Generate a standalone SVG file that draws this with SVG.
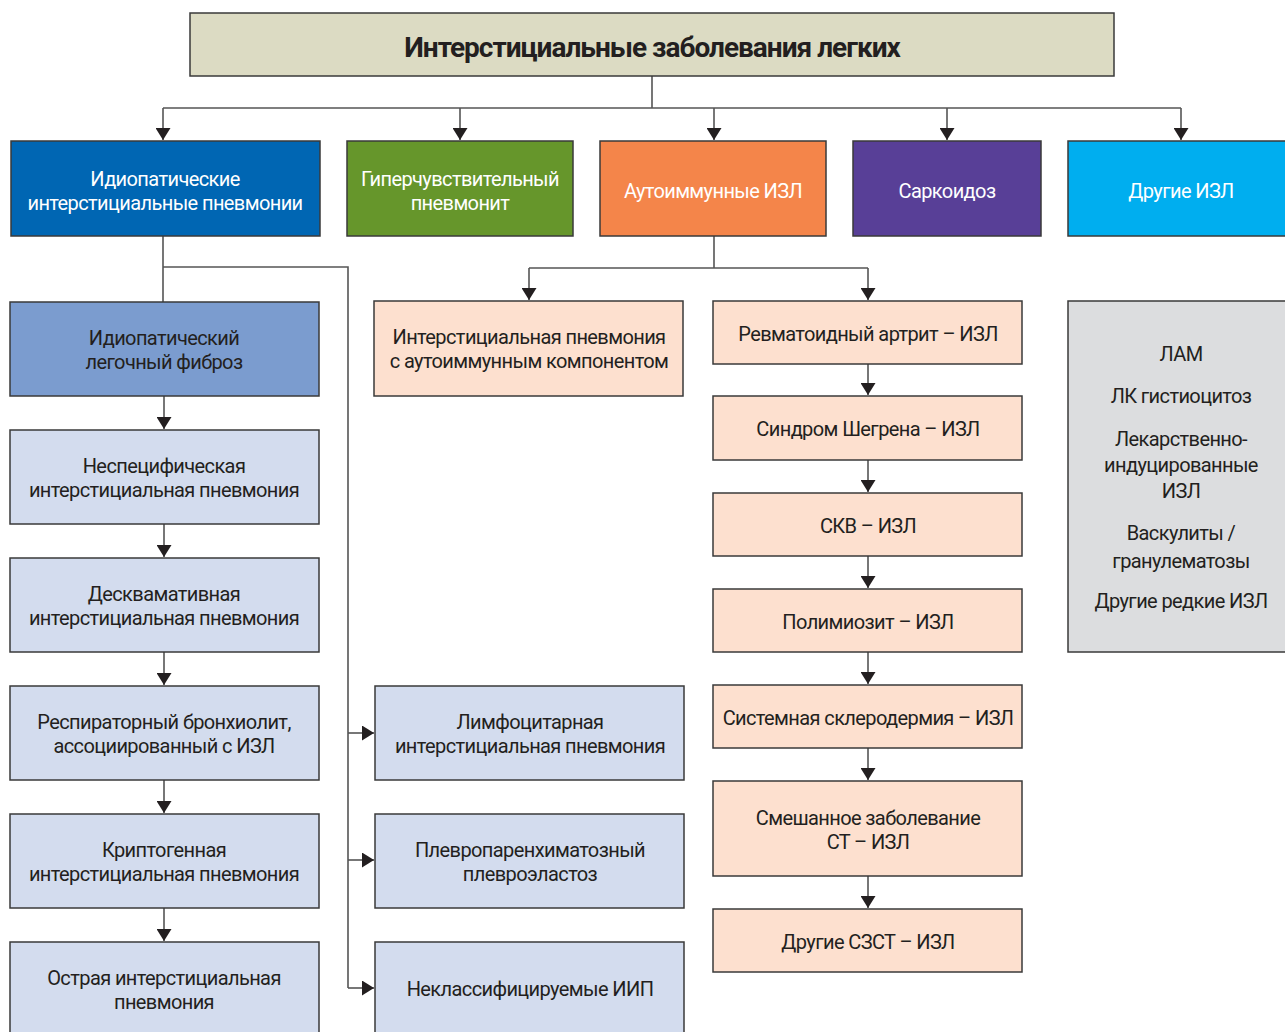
<svg xmlns="http://www.w3.org/2000/svg" width="1285" height="1032" viewBox="0 0 1285 1032">
<defs>
<marker id="ah" markerWidth="12" markerHeight="15" refX="12" refY="7.5" orient="auto" markerUnits="userSpaceOnUse">
<path d="M0,0 L12,7.5 L0,15 Z" fill="#231f20"/>
</marker>
<style>
rect{stroke:#3a3a3a;stroke-width:1.5}
rect.bg{stroke:none;fill:#ffffff}
text{font-family:"Roboto","Liberation Sans",sans-serif;font-size:20px;text-anchor:middle;fill:#231f20;letter-spacing:-0.6px}
.w{fill:#ffffff}
.t{font-weight:bold;font-size:28px;letter-spacing:-1px}
.c{fill:none;stroke:#555555;stroke-width:1.6}
.lb{fill:#d3dcee}
.pk{fill:#fde0cf}
</style>
</defs>
<rect class="bg" width="1285" height="1032"/>
<g id="connectors">
<path class="c" d="M652,76 V108 M163,108 H1181"/>
<path class="c" d="M163,108 V140" marker-end="url(#ah)"/>
<path class="c" d="M460,108 V140" marker-end="url(#ah)"/>
<path class="c" d="M714,108 V140" marker-end="url(#ah)"/>
<path class="c" d="M947,108 V140" marker-end="url(#ah)"/>
<path class="c" d="M1181,108 V140" marker-end="url(#ah)"/>
<path class="c" d="M163,236 V302 M163,267 H348 V988"/>
<path class="c" d="M348,733 H374" marker-end="url(#ah)"/>
<path class="c" d="M348,860 H374" marker-end="url(#ah)"/>
<path class="c" d="M348,988 H374" marker-end="url(#ah)"/>
<path class="c" d="M164,396 V429" marker-end="url(#ah)"/>
<path class="c" d="M164,524 V557" marker-end="url(#ah)"/>
<path class="c" d="M164,652 V685" marker-end="url(#ah)"/>
<path class="c" d="M164,780 V813" marker-end="url(#ah)"/>
<path class="c" d="M164,908 V941" marker-end="url(#ah)"/>
<path class="c" d="M714,236 V268 M529,268 H868"/>
<path class="c" d="M529,268 V300" marker-end="url(#ah)"/>
<path class="c" d="M868,268 V300" marker-end="url(#ah)"/>
<path class="c" d="M868,364 V395" marker-end="url(#ah)"/>
<path class="c" d="M868,460 V492" marker-end="url(#ah)"/>
<path class="c" d="M868,556 V588" marker-end="url(#ah)"/>
<path class="c" d="M868,652 V684" marker-end="url(#ah)"/>
<path class="c" d="M868,748 V780" marker-end="url(#ah)"/>
<path class="c" d="M868,876 V908" marker-end="url(#ah)"/>
</g>
<g id="title"><rect x="190" y="13" width="924" height="63" fill="#dcdbc3"/><text class="t" x="652" y="57">Интерстициальные заболевания легких</text></g>
<g id="iip"><rect x="11" y="141" width="309" height="95" fill="#0066b3"/><text class="w" x="165" y="186">Идиопатические</text><text class="w" x="165" y="210">интерстициальные пневмонии</text></g>
<g id="hp"><rect x="347" y="141" width="226" height="95" fill="#66962b"/><text class="w" x="460" y="186">Гиперчувствительный</text><text class="w" x="460" y="210">пневмонит</text></g>
<g id="ai"><rect x="600" y="141" width="226" height="95" fill="#f4854a"/><text class="w" x="713" y="198">Аутоиммунные ИЗЛ</text></g>
<g id="sarc"><rect x="853" y="141" width="188" height="95" fill="#583f97"/><text class="w" x="947" y="198">Саркоидоз</text></g>
<g id="other"><rect x="1068" y="141" width="230" height="95" fill="#00aeef"/><text class="w" x="1181" y="198">Другие ИЗЛ</text></g>
<g id="ipf"><rect x="10" y="302" width="309" height="94" fill="#7b9ccf"/><text x="164" y="345">Идиопатический</text><text x="164" y="369">легочный фиброз</text></g>
<g id="nsip"><rect class="lb" x="10" y="430" width="309" height="94"/><text x="164" y="473">Неспецифическая</text><text x="164" y="497">интерстициальная пневмония</text></g>
<g id="dip"><rect class="lb" x="10" y="558" width="309" height="94"/><text x="164" y="601">Десквамативная</text><text x="164" y="625">интерстициальная пневмония</text></g>
<g id="rb"><rect class="lb" x="10" y="686" width="309" height="94"/><text x="164" y="729">Респираторный бронхиолит,</text><text x="164" y="753">ассоциированный с ИЗЛ</text></g>
<g id="cop"><rect class="lb" x="10" y="814" width="309" height="94"/><text x="164" y="857">Криптогенная</text><text x="164" y="881">интерстициальная пневмония</text></g>
<g id="aip"><rect class="lb" x="10" y="942" width="309" height="100"/><text x="164" y="985">Острая интерстициальная</text><text x="164" y="1009">пневмония</text></g>
<g id="lip"><rect class="lb" x="375" y="686" width="309" height="94"/><text x="530" y="729">Лимфоцитарная</text><text x="530" y="753">интерстициальная пневмония</text></g>
<g id="ppfe"><rect class="lb" x="375" y="814" width="309" height="94"/><text x="530" y="857">Плевропаренхиматозный</text><text x="530" y="881">плевроэластоз</text></g>
<g id="uiip"><rect class="lb" x="375" y="942" width="309" height="100"/><text x="530" y="996">Неклассифицируемые ИИП</text></g>
<g id="ipaf"><rect class="pk" x="374" y="301" width="309" height="95"/><text x="529" y="344">Интерстициальная пневмония</text><text x="529" y="368">с аутоиммунным компонентом</text></g>
<g id="ra"><rect class="pk" x="713" y="301" width="309" height="63"/><text x="868" y="341">Ревматоидный артрит – ИЗЛ</text></g>
<g id="sj"><rect class="pk" x="713" y="396" width="309" height="64"/><text x="868" y="436">Синдром Шегрена – ИЗЛ</text></g>
<g id="sle"><rect class="pk" x="713" y="493" width="309" height="63"/><text x="868" y="533">СКВ – ИЗЛ</text></g>
<g id="pm"><rect class="pk" x="713" y="589" width="309" height="63"/><text x="868" y="629">Полимиозит – ИЗЛ</text></g>
<g id="ssc"><rect class="pk" x="713" y="685" width="309" height="63"/><text x="868" y="725">Системная склеродермия – ИЗЛ</text></g>
<g id="mctd"><rect class="pk" x="713" y="781" width="309" height="95"/><text x="868" y="825">Смешанное заболевание</text><text x="868" y="849">СТ – ИЗЛ</text></g>
<g id="octd"><rect class="pk" x="713" y="909" width="309" height="63"/><text x="868" y="949">Другие СЗСТ – ИЗЛ</text></g>
<g id="rare"><rect x="1068" y="301" width="230" height="351" fill="#dcdddf"/>
<text x="1181" y="361">ЛАМ</text><text x="1181" y="403">ЛК гистиоцитоз</text><text x="1181" y="446">Лекарственно-</text><text x="1181" y="472">индуцированные</text><text x="1181" y="498">ИЗЛ</text><text x="1181" y="540">Васкулиты /</text><text x="1181" y="568">гранулематозы</text><text x="1181" y="608">Другие редкие ИЗЛ</text></g>
</svg>
